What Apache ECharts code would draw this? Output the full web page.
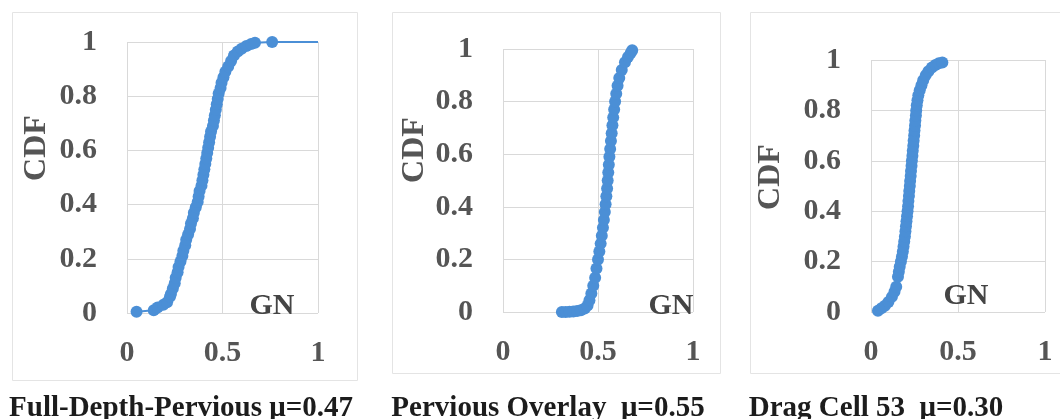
<!DOCTYPE html>
<html>
<head>
<meta charset="utf-8">
<script src="https://cdn.jsdelivr.net/npm/echarts@6/dist/echarts.min.js"></script>
<style>
  html, body { margin: 0; padding: 0; background: #ffffff; }
  #chart { width: 1060px; height: 419px; }
</style>
</head>
<body>
<div id="chart"></div>
<script>
// Empirical CDFs of GN for three pavement types: [GN, CDF]
const fullDepthPervious = [
  [0.05, 0.005], [0.14, 0.01], [0.16, 0.02], [0.19, 0.03], [0.21, 0.04], [0.225, 0.06],
  [0.23, 0.07], [0.24, 0.09], [0.25, 0.11], [0.255, 0.13], [0.265, 0.15], [0.27, 0.17],
  [0.28, 0.19], [0.29, 0.21], [0.295, 0.23], [0.305, 0.25], [0.31, 0.27], [0.32, 0.29],
  [0.33, 0.31], [0.335, 0.33], [0.345, 0.35], [0.35, 0.37], [0.36, 0.39], [0.37, 0.41],
  [0.375, 0.43], [0.38, 0.45], [0.39, 0.47], [0.395, 0.49], [0.40, 0.51], [0.405, 0.53],
  [0.41, 0.55], [0.415, 0.57], [0.42, 0.59], [0.425, 0.61], [0.43, 0.63], [0.435, 0.65],
  [0.44, 0.67], [0.45, 0.69], [0.455, 0.71], [0.46, 0.73], [0.465, 0.75], [0.47, 0.77],
  [0.475, 0.79], [0.48, 0.81], [0.49, 0.83], [0.495, 0.85], [0.505, 0.87], [0.515, 0.89],
  [0.53, 0.91], [0.545, 0.93], [0.56, 0.95], [0.58, 0.965], [0.60, 0.975], [0.625, 0.985],
  [0.65, 0.993], [0.67, 0.997], [0.76, 1.0]
];
// tail of the first CDF, drawn as a plain line to GN = 1
const fullDepthTail = [[0.76, 1.0], [1.0, 1.0]];

const perviousOverlay = [
  [0.31, 0.0], [0.33, 0.0], [0.35, 0.001], [0.37, 0.002], [0.39, 0.004], [0.41, 0.007],
  [0.43, 0.013], [0.445, 0.025], [0.455, 0.045], [0.465, 0.07], [0.475, 0.10], [0.485, 0.13],
  [0.492, 0.165], [0.500, 0.20], [0.507, 0.23], [0.514, 0.26], [0.520, 0.29], [0.526, 0.32],
  [0.531, 0.35], [0.536, 0.38], [0.540, 0.41], [0.544, 0.44], [0.548, 0.47], [0.551, 0.50],
  [0.554, 0.53], [0.557, 0.56], [0.560, 0.59], [0.564, 0.62], [0.568, 0.65], [0.572, 0.68],
  [0.576, 0.71], [0.580, 0.74], [0.585, 0.77], [0.590, 0.80], [0.596, 0.83], [0.603, 0.86],
  [0.612, 0.89], [0.625, 0.92], [0.642, 0.95], [0.658, 0.97], [0.672, 0.985], [0.68, 0.995]
];

const dragCell53 = [
  [0.04, 0.005], [0.06, 0.015], [0.08, 0.025], [0.10, 0.04], [0.12, 0.06], [0.135, 0.08],
  [0.145, 0.10], [0.155, 0.14], [0.16, 0.16], [0.165, 0.18], [0.172, 0.20], [0.178, 0.22],
  [0.183, 0.24], [0.187, 0.26], [0.191, 0.28], [0.195, 0.30], [0.198, 0.32], [0.201, 0.34],
  [0.204, 0.36], [0.207, 0.38], [0.210, 0.40], [0.213, 0.42], [0.215, 0.44], [0.218, 0.46],
  [0.220, 0.48], [0.223, 0.50], [0.225, 0.52], [0.228, 0.54], [0.230, 0.56], [0.233, 0.58],
  [0.235, 0.60], [0.238, 0.62], [0.240, 0.64], [0.243, 0.66], [0.245, 0.68], [0.248, 0.70],
  [0.250, 0.72], [0.253, 0.74], [0.255, 0.76], [0.258, 0.78], [0.260, 0.80], [0.263, 0.82],
  [0.267, 0.84], [0.272, 0.86], [0.28, 0.88], [0.29, 0.90], [0.30, 0.92], [0.315, 0.94],
  [0.33, 0.955], [0.35, 0.97], [0.37, 0.98], [0.39, 0.987], [0.41, 0.99]
];

const panelTitles = ['Full-Depth-Pervious \u03bc=0.47', 'Pervious Overlay  \u03bc=0.55', 'Drag Cell 53  \u03bc=0.30'];
const xTicks = [0, 0.5, 1];
const yTicks = [0, 0.2, 0.4, 0.6, 0.8, 1];
const yAxisName = 'CDF';
const xAxisName = 'GN';

const SERIF = '"Liberation Serif", "Times New Roman", serif';
const BLUE = '#4b8fd6';
const GRID_COLOR = '#d9d9d9';

// plot-area placement of each panel
const grids = [
  { left: 127, right: 742, top: 42, bottom: 106 },
  { left: 503, right: 367, top: 49, bottom: 107 },
  { left: 871, right: 15, top: 60, bottom: 107 }
];

function fmt(v) { return String(+v.toFixed(1)); }

const xAxes = grids.map((g, i) => ({
  type: 'value', gridIndex: i,
  min: xTicks[0], max: xTicks[xTicks.length - 1], interval: xTicks[1] - xTicks[0],
  axisLine: { show: false }, axisTick: { show: false },
  splitLine: { show: true, lineStyle: { color: GRID_COLOR, width: 1 } },
  axisLabel: { margin: 25, color: '#555555', fontFamily: SERIF, fontWeight: 'bold', fontSize: 30, formatter: fmt }
}));

const yAxes = grids.map((g, i) => ({
  type: 'value', gridIndex: i,
  min: yTicks[0], max: yTicks[yTicks.length - 1], interval: yTicks[1] - yTicks[0],
  axisLine: { show: false }, axisTick: { show: false },
  splitLine: { show: true, lineStyle: { color: GRID_COLOR, width: 1 } },
  axisLabel: { margin: 30, color: '#555555', fontFamily: SERIF, fontWeight: 'bold', fontSize: 30, formatter: fmt }
}));

function cdfSeries(data, i) {
  return {
    type: 'line', xAxisIndex: i, yAxisIndex: i, data: data,
    symbol: 'circle', symbolSize: 12, showSymbol: true,
    itemStyle: { color: BLUE }, lineStyle: { color: BLUE, width: 2 },
    animation: false, z: 3
  };
}

const series = [
  cdfSeries(fullDepthPervious, 0),
  { type: 'line', xAxisIndex: 0, yAxisIndex: 0, data: fullDepthTail, showSymbol: false,
    symbol: 'none', lineStyle: { color: BLUE, width: 2 }, animation: false, z: 2 },
  cdfSeries(perviousOverlay, 1),
  cdfSeries(dragCell53, 2)
];

// panel frames, axis names and captions
const frames = [
  { x: 12, y: 12, w: 345, h: 368 },
  { x: 392, y: 12, w: 328, h: 361 },
  { x: 750, y: 12, w: 330, h: 361 }
];
const cdfPos = [[37, 148], [415, 150], [771, 177]];
const gnPos = [[272, 306], [671, 306], [966, 296]];
const captionPos = [[181, 409], [548, 409], [876, 409]];

const graphic = [];
frames.forEach(f => graphic.push({
  type: 'rect', silent: true, z: -10,
  shape: { x: f.x + 0.5, y: f.y + 0.5, width: f.w, height: f.h },
  style: { fill: 'none', stroke: '#e4e4e4', lineWidth: 1 }
}));
cdfPos.forEach(p => graphic.push({
  type: 'text', x: p[0], y: p[1], rotation: Math.PI / 2, z: 10,
  style: { text: yAxisName, fill: '#555555', font: 'bold 32px ' + SERIF, textAlign: 'center', textVerticalAlign: 'middle' }
}));
gnPos.forEach(p => graphic.push({
  type: 'text', x: p[0], y: p[1], z: 10,
  style: { text: xAxisName, fill: '#444444', font: 'bold 30px ' + SERIF, textAlign: 'center', textVerticalAlign: 'middle' }
}));
captionPos.forEach((p, i) => graphic.push({
  type: 'text', x: p[0], y: p[1], z: 10,
  style: { text: panelTitles[i], fill: '#1c1c1c', font: 'bold 29px ' + SERIF, textAlign: 'center', textVerticalAlign: 'middle' }
}));

const chart = echarts.init(document.getElementById('chart'), null, { renderer: 'canvas' });
chart.setOption({
  backgroundColor: '#ffffff',
  animation: false,
  grid: grids,
  xAxis: xAxes,
  yAxis: yAxes,
  series: series,
  graphic: graphic
});
</script>
</body>
</html>
